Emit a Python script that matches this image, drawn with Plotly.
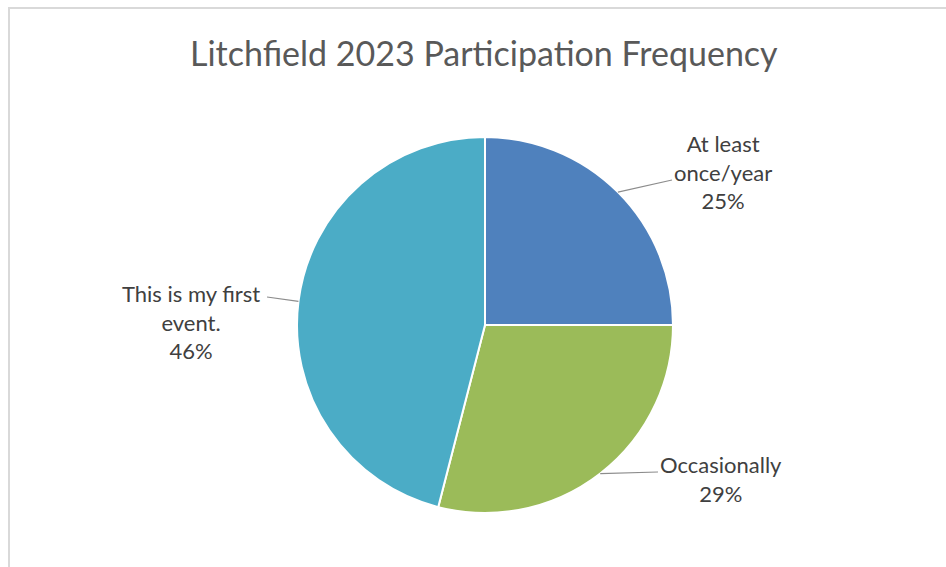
import math
import plotly.graph_objects as go

# Survey data
categories = ["At least once/year", "Occasionally", "This is my first event."]
values = [25, 29, 46]
label_lines = [["At least", "once/year"], ["Occasionally"], ["This is my first", "event."]]
colors = ["#4F81BD", "#9BBB59", "#4BACC6"]
title_text = "Litchfield 2023 Participation Frequency"

W, H = 946, 567
CX, CY, R = 485, 325, 188          # pie centre and radius in pixels

def px(x):
    return x / W

def py(y):
    return 1 - y / H

# label block centres and leader-line end points (pixels)
label_pos = [(723, 172), (721, 479), (191, 322)]
leader_end = [(672, 180), (658, 472), (267, 297)]

fig = go.Figure(go.Pie(
    labels=categories,
    values=values,
    sort=False,
    direction="clockwise",
    rotation=0,
    marker=dict(colors=colors, line=dict(color="white", width=2)),
    textinfo="none",
    hoverinfo="label+percent",
    showlegend=False,
    domain=dict(x=[px(CX - R), px(CX + R)], y=[py(CY + R), py(CY - R)]),
))

total = sum(values)
shapes = [
    # chart frame
    dict(type="rect", xref="paper", yref="paper",
         x0=px(9), x1=px(970), y0=py(600), y1=py(8),
         line=dict(color="#D9D9D9", width=2), fillcolor="rgba(0,0,0,0)", layer="below"),
]
annotations = [
    dict(text=title_text, x=px(484), y=py(52), xref="paper", yref="paper",
         showarrow=False, xanchor="center", yanchor="middle",
         font=dict(family="Lato", size=34, color="#595959")),
]

cum = 0
for i, v in enumerate(values):
    mid = (cum + v / 2) / total * 2 * math.pi
    cum += v
    ex = CX + R * math.sin(mid)
    ey = CY - R * math.cos(mid)
    lx, ly = leader_end[i]
    shapes.append(dict(type="line", xref="paper", yref="paper",
                       x0=px(ex), y0=py(ey), x1=px(lx), y1=py(ly),
                       line=dict(color="#8C8C8C", width=1.2)))
    pct = round(v / total * 100)
    text = "<br>".join(label_lines[i] + [f"{pct}%"])
    tx, ty = label_pos[i]
    annotations.append(dict(text=text, x=px(tx), y=py(ty), xref="paper", yref="paper",
                            showarrow=False, xanchor="center", yanchor="middle",
                            align="center",
                            font=dict(family="Lato", size=22, color="#404040")))

fig.update_layout(
    width=W, height=H,
    margin=dict(l=0, r=0, t=0, b=0),
    paper_bgcolor="white",
    plot_bgcolor="white",
    shapes=shapes,
    annotations=annotations,
)

fig.write_html("out.html")
